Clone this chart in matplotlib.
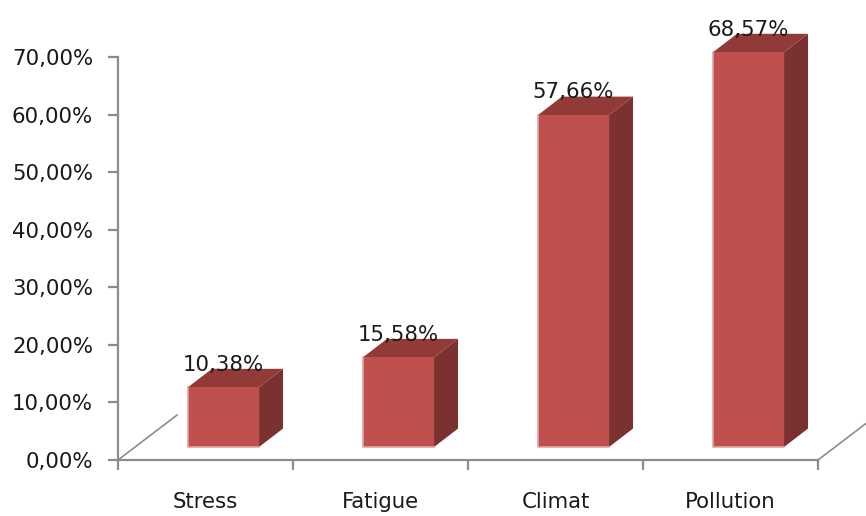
import matplotlib
matplotlib.use("Agg")
import matplotlib.pyplot as plt
from matplotlib.patches import Polygon
from matplotlib.ticker import FuncFormatter, FixedLocator

# data
categories = ["Stress", "Fatigue", "Climat", "Pollution"]
values = [10.38, 15.58, 57.66, 68.57]
y_ticks = [0, 10, 20, 30, 40, 50, 60, 70]

FRONT = "#C0504D"
TOP = "#923A38"
SIDE = "#7A312F"
EDGE_LIGHT = "#E3A3A2"
AXIS_GRAY = "#8C8C8C"
TEXT = "#1A1A1A"

# 3D look, in data units
FLOOR_DX, FLOOR_DY = 0.337, 7.8     # full floor depth
OFF_DX, OFF_DY = 0.103, 2.26        # bar front plane offset
DEP_DX, DEP_DY = 0.137, 3.2         # bar depth
BAR_W = 0.406

fig = plt.figure(figsize=(8.66, 5.16), dpi=100)
fig.patch.set_facecolor("white")
ax = fig.add_axes([118 / 866, 56 / 516, 700 / 866, 403 / 516])
ax.set_xlim(0, len(categories))
ax.set_ylim(0, 70)
ax.set_facecolor("none")

for s in ("top", "right"):
    ax.spines[s].set_visible(False)
for s in ("left", "bottom"):
    ax.spines[s].set_color(AXIS_GRAY)
    ax.spines[s].set_linewidth(1.6)

# floor diagonals
for x0 in (0, len(categories)):
    ax.plot([x0, x0 + FLOOR_DX], [0, FLOOR_DY], color=AXIS_GRAY, lw=1.2,
            clip_on=False, zorder=1)

for i, v in enumerate(values):
    x0 = i + 0.5 - BAR_W / 2 + OFF_DX
    x1 = x0 + BAR_W
    y0 = OFF_DY
    y1 = OFF_DY + v
    front = [(x0, y0), (x1, y0), (x1, y1), (x0, y1)]
    side = [(x1, y0), (x1 + DEP_DX, y0 + DEP_DY), (x1 + DEP_DX, y1 + DEP_DY), (x1, y1)]
    top = [(x0, y1), (x1, y1), (x1 + DEP_DX, y1 + DEP_DY), (x0 + DEP_DX, y1 + DEP_DY)]
    for pts, col in ((side, SIDE), (top, TOP), (front, FRONT)):
        ax.add_patch(Polygon(pts, closed=True, facecolor=col, edgecolor="none",
                             clip_on=False, zorder=3))
    ax.plot([x0, x0, x1], [y1, y0, y0], color=EDGE_LIGHT, lw=1.2,
            clip_on=False, zorder=4)
    lbl = f"{v:.2f}%".replace(".", ",")
    ax.text((x0 + x1) / 2, y1 + DEP_DY - 0.3, lbl, ha="center", va="baseline",
            fontsize=15.3, color=TEXT, zorder=5, clip_on=False)

ax.yaxis.set_major_locator(FixedLocator(y_ticks))
ax.yaxis.set_major_formatter(FuncFormatter(lambda y, _: f"{y:.2f}%".replace(".", ",")))
ax.tick_params(axis="y", length=7, width=1.6, color=AXIS_GRAY, labelsize=15.3,
               labelcolor=TEXT, pad=11)

ax.set_xticks([i + 0.5 for i in range(len(categories))])
ax.set_xticklabels(categories)
ax.set_xticks(range(len(categories) + 1), minor=True)
ax.tick_params(axis="x", which="major", length=0, labelsize=15.3,
               labelcolor=TEXT, pad=23)
ax.tick_params(axis="x", which="minor", length=7, width=1.6, color=AXIS_GRAY)

fig.savefig("out.png", dpi=100, facecolor="white")
